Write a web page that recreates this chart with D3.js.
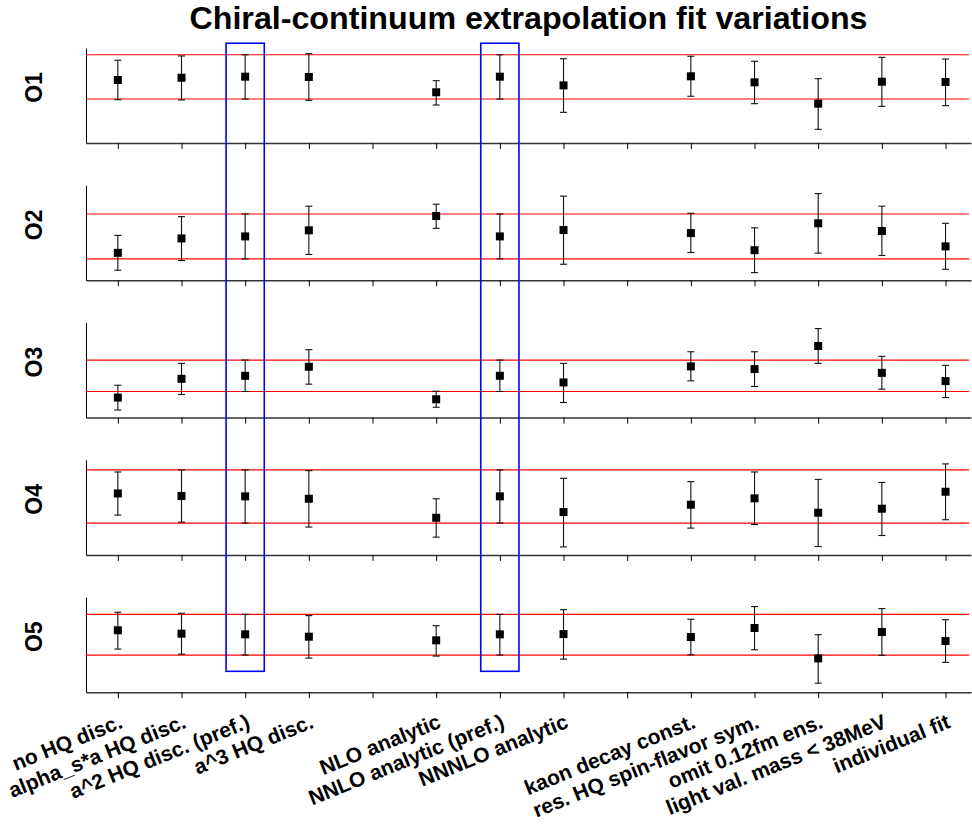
<!DOCTYPE html>
<html>
<head>
<meta charset="utf-8">
<script src="https://cdn.jsdelivr.net/npm/d3@7"></script>
<style>
	body { margin: 0; background: #fff; }
	svg { display: block; font-family: "Liberation Sans", Arial, sans-serif; }
</style>
</head>
<body>
<svg id="chart" width="972" height="827"></svg>
<script>
'use strict';

// data (y in relative panel units, 0 = axis, 100 = top of panel)
const positions = [1, 2, 3, 4, 6, 7, 8, 10, 11, 12, 13, 14];
const fitLabels = [
	'no HQ disc.', 'alpha_s*a HQ disc.', 'a^2 HQ disc. (pref.)', 'a^3 HQ disc.',
	'NLO analytic', 'NNLO analytic (pref.)', 'NNNLO analytic',
	'kaon decay const.', 'res. HQ spin-flavor sym.', 'omit 0.12fm ens.',
	'light val. mass < 38MeV', 'individual fit'
];
const operators = ['O1', 'O2', 'O3', 'O4', 'O5'];
const preferred = [3, 7];

const o1Mid = [66.3, 68.7, 69.8, 69.5, 53.4, 69.8, 60.7, 70.2, 63.9, 41.4, 64.5, 64.2];
const o1Hi = [87.1, 91.6, 92.9, 94.0, 65.6, 92.9, 88.7, 91.3, 86.0, 67.7, 90.2, 88.4];
const o1Lo = [45.6, 45.3, 46.3, 44.9, 40.0, 46.3, 32.3, 49.2, 41.4, 14.4, 38.6, 39.3];

const o2Mid = [28.9, 44.1, 46.2, 52.6, 67.7, 46.2, 52.9, 49.7, 31.7, 60.0, 51.9, 35.7];
const o2Hi = [47.3, 67.0, 69.8, 78.0, 80.1, 69.8, 88.6, 70.6, 55.3, 91.3, 78.0, 60.0];
const o2Lo = [10.6, 20.8, 22.5, 27.2, 54.7, 22.5, 16.9, 29.3, 8.1, 28.6, 26.1, 11.6];

const o3Mid = [21.1, 40.8, 44.0, 53.5, 19.3, 44.0, 37.0, 53.9, 51.1, 75.4, 47.1, 38.4];
const o3Hi = [34.1, 57.1, 60.6, 71.5, 27.8, 60.6, 57.1, 69.3, 69.3, 93.7, 64.5, 55.0];
const o3Lo = [8.0, 24.3, 27.5, 35.2, 10.9, 27.5, 15.9, 38.7, 32.8, 57.1, 29.9, 21.1];

const o4Mid = [64.7, 62.0, 61.6, 59.1, 39.1, 61.6, 45.1, 52.8, 59.5, 44.4, 48.6, 66.5];
const o4Hi = [87.3, 89.4, 89.4, 88.7, 59.1, 89.4, 80.6, 77.1, 87.3, 79.5, 76.3, 95.8];
const o4Lo = [41.9, 34.5, 33.5, 29.3, 18.7, 33.5, 8.4, 28.2, 32.0, 8.8, 20.4, 37.0];

const o5Mid = [65.2, 61.6, 60.9, 58.4, 54.6, 60.9, 61.2, 58.1, 67.6, 35.6, 63.4, 53.9];
const o5Hi = [84.2, 83.1, 82.0, 80.6, 70.0, 82.0, 86.9, 76.8, 90.1, 60.5, 88.0, 76.3];
const o5Lo = [45.4, 40.1, 39.1, 35.9, 38.0, 39.1, 34.8, 39.4, 44.7, 9.5, 38.8, 31.4];

const series = [
	{mid: o1Mid, hi: o1Hi, lo: o1Lo},
	{mid: o2Mid, hi: o2Hi, lo: o2Lo},
	{mid: o3Mid, hi: o3Hi, lo: o3Lo},
	{mid: o4Mid, hi: o4Hi, lo: o4Lo},
	{mid: o5Mid, hi: o5Hi, lo: o5Lo}
];

// layout
const left = 86;
const right = 971;
const panelTop = 48;
const panelH = 95;
const panelStep = 137.3;
const boxHalf = 0.3;

const svg = d3.select('#chart');

const x = d3.scaleLinear().domain([0.5, 14.4]).range([left, right]);

svg.append('text')
	.attr('x', (left + right) / 2)
	.attr('y', 29)
	.attr('text-anchor', 'middle')
	.attr('font-size', 31)
	.attr('font-weight', 'bold')
	.attr('textLength', 678)
	.attr('lengthAdjust', 'spacingAndGlyphs')
	.text('Chiral-continuum extrapolation fit variations');

const yScales = operators.map((op, i) => {
	const top = panelTop + i * panelStep;
	return d3.scaleLinear().domain([0, 100]).range([top + panelH, top]);
});

operators.forEach((op, i) => {
	const y = yScales[i];
	const s = series[i];
	const g = svg.append('g');
	const pref = positions.indexOf(preferred[0]);

	g.append('g')
		.attr('transform', `translate(0,${y(0)})`)
		.call(d3.axisBottom(x).tickValues(d3.range(1, 15)).tickFormat('').tickSize(6).tickSizeOuter(0))
		.call(a => a.select('.domain').attr('stroke', '#333').attr('stroke-width', 1.5));

	g.append('g')
		.attr('transform', `translate(${left},0)`)
		.call(d3.axisLeft(y).tickValues([]).tickSizeOuter(0))
		.call(a => a.select('.domain').attr('stroke', '#000'));

	g.selectAll('line.band')
		.data([s.hi[pref], s.lo[pref]])
		.join('line')
		.attr('class', 'band')
		.attr('x1', left)
		.attr('x2', right - 2)
		.attr('y1', d => y(d))
		.attr('y2', d => y(d))
		.attr('stroke', 'red')
		.attr('stroke-width', 1.2);

	g.append('text')
		.attr('transform', `translate(42,${y(50) - 8}) rotate(-90)`)
		.attr('text-anchor', 'middle')
		.attr('font-size', 23)
		.attr('font-weight', 'bold')
		.text(op);

	const pts = positions.map((p, j) => ({p, mid: s.mid[j], hi: s.hi[j], lo: s.lo[j]}));
	const bars = g.selectAll('g.pt').data(pts).join('g').attr('class', 'pt')
		.attr('stroke', '#111')
		.attr('stroke-width', 1.1);
	bars.append('line')
		.attr('x1', d => x(d.p)).attr('x2', d => x(d.p))
		.attr('y1', d => y(d.hi)).attr('y2', d => y(d.lo));
	bars.append('line')
		.attr('x1', d => x(d.p) - 3.5).attr('x2', d => x(d.p) + 3.5)
		.attr('y1', d => y(d.hi)).attr('y2', d => y(d.hi));
	bars.append('line')
		.attr('x1', d => x(d.p) - 3.5).attr('x2', d => x(d.p) + 3.5)
		.attr('y1', d => y(d.lo)).attr('y2', d => y(d.lo));
	bars.append('rect')
		.attr('x', d => x(d.p) - 4)
		.attr('y', d => y(d.mid) - 4)
		.attr('width', 8)
		.attr('height', 8)
		.attr('fill', '#000')
		.attr('stroke', 'none');
});

// highlight boxes around preferred fits
const boxTop = yScales[0](105);
const boxBottom = yScales[4](22);
svg.selectAll('rect.pref')
	.data(preferred)
	.join('rect')
	.attr('class', 'pref')
	.attr('x', d => x(d - boxHalf))
	.attr('y', boxTop)
	.attr('width', d => x(d + boxHalf) - x(d - boxHalf))
	.attr('height', boxBottom - boxTop)
	.attr('fill', 'none')
	.attr('stroke', 'blue')
	.attr('stroke-width', 1.6);

const labelY = yScales[4](0) + 35;
svg.selectAll('text.fit')
	.data(positions)
	.join('text')
	.attr('class', 'fit')
	.attr('transform', d => `translate(${x(d) + 6},${labelY}) rotate(-22)`)
	.attr('text-anchor', 'end')
	.attr('font-size', 21)
	.attr('font-weight', 'bold')
	.text((d, j) => fitLabels[j]);
</script>
</body>
</html>
